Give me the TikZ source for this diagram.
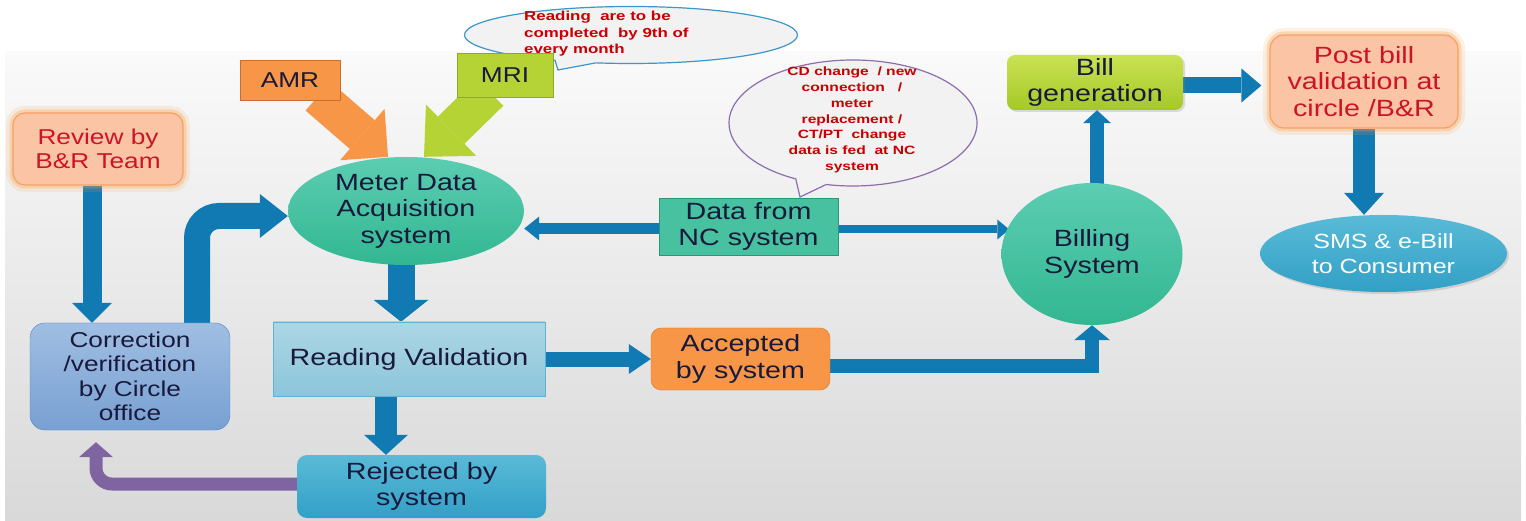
\documentclass[tikz,border=0pt]{standalone}
\usepackage{fontspec}
\setmainfont{Liberation Sans}[FakeStretch=1.22]
\newfontfamily\bubblefont{Liberation Sans}[FakeStretch=1.3]
\usetikzlibrary{arrows.meta,shapes.geometric,shapes.callouts,shadows,calc}
\pgfdeclarelayer{back}
\pgfdeclarelayer{bg}
\pgfsetlayers{back,bg,main}
\definecolor{arrblue}{RGB}{17,122,178}
\definecolor{navy}{RGB}{25,25,60}
\definecolor{amrorange}{RGB}{247,150,70}
\definecolor{amredge}{RGB}{200,110,50}
\definecolor{lime}{RGB}{181,211,52}
\definecolor{limeedge}{RGB}{140,170,40}
\definecolor{limeA}{RGB}{202,226,82}
\definecolor{limeB}{RGB}{165,200,40}
\definecolor{tealA}{RGB}{92,205,178}
\definecolor{tealB}{RGB}{50,183,145}
\definecolor{ncteal}{RGB}{72,193,160}
\definecolor{ncedge}{RGB}{45,150,120}
\definecolor{peach}{RGB}{251,196,165}
\definecolor{peachedge}{RGB}{247,160,100}
\definecolor{glow}{RGB}{250,160,70}
\definecolor{redtxt}{RGB}{204,20,40}
\definecolor{rvtop}{RGB}{172,214,228}
\definecolor{rvbot}{RGB}{140,197,218}
\definecolor{rvedge}{RGB}{95,178,210}
\definecolor{skyA}{RGB}{90,186,215}
\definecolor{skyB}{RGB}{50,160,198}
\definecolor{corrtop}{RGB}{160,190,226}
\definecolor{corrbot}{RGB}{120,160,210}
\definecolor{corredge}{RGB}{75,135,195}
\definecolor{accedge}{RGB}{210,120,50}
\definecolor{purp}{RGB}{128,100,162}
\definecolor{bubblegray}{RGB}{242,242,242}
\definecolor{bubblue}{RGB}{60,150,200}
\definecolor{bubpurple}{RGB}{140,110,175}
\definecolor{bubred}{RGB}{200,0,0}
\begin{document}
\begin{tikzpicture}[x=1pt,y=-1pt,
  box/.style={inner sep=0pt, align=center, text=navy, font=\fontsize{23.5}{26.5}\selectfont},
  glowbox/.style={box, rounded corners=14pt, fill=peach, draw=peachedge, line width=1.2pt, text=redtxt,
     preaction={draw=glow, line width=14pt, draw opacity=.15},
     preaction={draw=glow, line width=7pt, draw opacity=.3}},
  tealfill/.style={top color=tealA, bottom color=tealB},
  bubble/.style={ellipse callout, fill=bubblegray, line width=1.2pt, inner sep=0pt},
  bubtext/.style={text=bubred, align=center, inner sep=0pt, font=\bubblefont\bfseries\fontsize{12}{15.8}\selectfont},
  fat/.style n args={3}{draw=arrblue, line width=#1, -{Triangle[width=#2,length=#3,line width=0pt]}},
  softshadow/.style={drop shadow={opacity=.25, shadow xshift=2pt, shadow yshift=-2pt}},
]
\useasboundingbox (0,0) rectangle (1526,521);
\begin{pgfonlayer}{back}
\fill[white] (0,0) rectangle (1526,521);
\shade[top color=black!2, bottom color=black!15] (5,52) rectangle (1521,521);
\end{pgfonlayer}

% speech bubbles
\node[bubble, draw=bubblue, minimum width=333pt, minimum height=57pt, callout absolute pointer={(558,70)}] (bub1) at (631,35) {};
\node[bubtext, align=left, anchor=west, font=\bubblefont\bfseries\fontsize{13}{16.5}\selectfont] (bub1t) at (524,34) {Reading\ \ are to be\\completed\ \ by 9th of\\every month};
\node[bubble, draw=bubpurple, minimum width=248pt, minimum height=126pt, callout absolute pointer={(800,197)}] (bub2) at (853,123) {};
\node[bubtext] (bub2t) at (852,120) {CD change\ \ / new\\connection\ \ \ /\\meter\\replacement /\\CT/PT\ \ change\\data is fed\ \ at NC\\system};

% nodes
\node[box, draw=amredge, fill=amrorange, minimum width=100pt, minimum height=40pt, font=\fontsize{21.5}{24}\selectfont] (amr) at (290,80) {AMR};
\node[box, draw=limeedge, fill=lime, minimum width=96pt, minimum height=44pt, font=\fontsize{21.5}{24}\selectfont] (mri) at (505,75) {MRI};
\node[box, ellipse, tealfill, minimum width=236pt, minimum height=108pt] (mdas) at (406,211) {Meter Data\\Acquisition\\system};
\node[box, draw=ncedge, fill=ncteal, minimum width=179pt, minimum height=57pt] (nc) at (748.5,226.5) {Data from\\NC system};
\node[box, ellipse, tealfill, minimum width=181pt, minimum height=142pt] (bill) at (1092,254) {Billing\\System};
\node[box, rounded corners=8pt, top color=limeA, bottom color=limeB, softshadow, minimum width=176pt, minimum height=55pt] (billgen) at (1095,82.5) {Bill\\generation};
\node[glowbox, minimum width=188pt, minimum height=93pt] (post) at (1364,81.5) {Post bill\\validation at\\circle /B\&R};
\node[box, ellipse, top color=skyA, bottom color=skyB, softshadow, text=white, minimum width=247pt, minimum height=77pt, font=\fontsize{20.5}{25}\selectfont] (sms) at (1383.5,253.5) {SMS \& e-Bill\\to Consumer};
\node[glowbox, rounded corners=12pt, minimum width=170pt, minimum height=72pt, font=\fontsize{21.5}{24}\selectfont] (review) at (98,149) {Review by\\B\&R Team};
\node[box, rounded corners=15pt, draw=corredge, top color=corrtop, bottom color=corrbot, minimum width=200pt, minimum height=107pt, font=\fontsize{21.5}{24.5}\selectfont] (corr) at (130,376.5) {Correction\\/verification\\by Circle\\office};
\node[box, draw=rvedge, top color=rvtop, bottom color=rvbot, minimum width=272pt, minimum height=74pt] (rv) at (409,359) {Reading Validation};
\node[box, rounded corners=10pt, draw=accedge, fill=amrorange, minimum width=179pt, minimum height=62pt] (acc) at (740.5,359) {Accepted\\by system};
\node[box, rounded corners=10pt, top color=skyA, bottom color=skyB, minimum width=249pt, minimum height=63pt] (rej) at (421.5,486.5) {Rejected by\\system};

% connectors
\begin{pgfonlayer}{bg}
\coordinate (r1) at ([xshift=-6pt]review.south);
\draw[fat={19pt}{40pt}{20pt}] (r1) -- (r1 |- corr.north);

\coordinate (c1) at ([xshift=67pt,yshift=-4pt]corr.north);
\coordinate (m1) at ([yshift=-5pt]mdas.west);
\draw[fat={26pt}{44pt}{28pt}, rounded corners=22pt] (c1) |- (m1);

\coordinate (a1) at ([xshift=28pt,yshift=4pt]amr.south);
\coordinate (a2) at ([xshift=-18pt]mdas.north);
\draw[fat={38pt}{68pt}{34pt}, draw=amrorange] (a1) -- (a2);

\coordinate (i1) at ([xshift=-15pt,yshift=5pt]mri.south);
\coordinate (i2) at ([xshift=18pt]mdas.north);
\draw[fat={38pt}{72pt}{38pt}, draw=lime] (i1) -- (i2);

\coordinate (m2) at ([xshift=-5pt,yshift=5pt]mdas.south);
\draw[fat={27pt}{55pt}{22pt}] (m2) -- (m2 |- rv.north);

\coordinate (n1) at ([yshift=-2pt]nc.west);
\draw[fat={11pt}{24pt}{15pt}] (n1) -- (n1 -| mdas.east);

\coordinate (n2) at ([yshift=-3pt]nc.east);
\draw[fat={8pt}{20pt}{12pt}, shorten >=-8pt] (n2) -- (n2 -| bill.west);

\coordinate (b1) at ([xshift=5pt,yshift=-3pt]bill.north);
\draw[fat={14pt}{28pt}{13pt}] (b1) -- (b1 |- billgen.south);

\coordinate (g1) at ([yshift=-3pt]billgen.east);
\draw[fat={16pt}{34pt}{20pt}, shorten >=8pt] (g1) -- (g1 -| post.west);

\draw[fat={22pt}{40pt}{22pt}] (post.south) -- (post.south |- sms.north);

\draw[fat={15pt}{30pt}{22pt}] (rv.east) -- (rv.east -| acc.west);

\coordinate (ac1) at ([yshift=-7pt]acc.east);
\draw[fat={14pt}{36pt}{15pt}] (ac1) -| (bill.south);

\coordinate (v1) at ([xshift=-23pt]rv.south);
\draw[fat={22pt}{44pt}{20pt}] (v1) -- (v1 |- rej.north);

\coordinate (j1) at ([yshift=2.5pt]rej.west);
\coordinate (c2) at ([xshift=-34pt]corr.south);
\draw[fat={13pt}{34pt}{15pt}, draw=purp, rounded corners=16pt, shorten >=12pt] (j1) -| (c2);
\end{pgfonlayer}
\end{tikzpicture}
\end{document}
